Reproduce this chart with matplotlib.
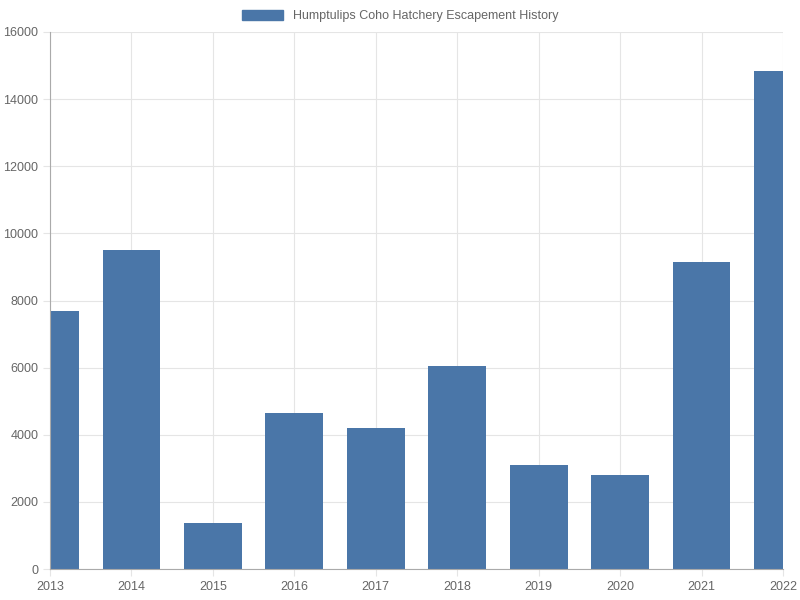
import matplotlib.pyplot as plt
from matplotlib.patches import Patch

years = [2013, 2014, 2015, 2016, 2017, 2018, 2019, 2020, 2021, 2022]
fish = [7700, 9500, 1370, 4650, 4200, 6050, 3100, 2800, 9150, 14840]
label = 'Humptulips Coho Hatchery Escapement History'

plt.rcParams['font.family'] = 'Liberation Sans'
fig = plt.figure(figsize=(8, 6), dpi=100)
ax = fig.add_axes([50/800, 1 - 569/600, 733/800, 537/600])

color = '#4a76a8'
ax.bar(years, fish, 0.71, color=color, zorder=2)
ax.set_xlim(2013, 2022)
ax.set_ylim(0, 16000)
ax.set_xticks(years)
ax.set_yticks(range(0, 16001, 2000))
ax.grid(True, color='#e5e5e5', linewidth=0.8, zorder=0)
for s in ['top', 'right']:
    ax.spines[s].set_visible(False)
for s in ['left', 'bottom']:
    ax.spines[s].set_color('#aaaaaa')
ax.tick_params(colors='#666666', labelsize=9, length=5)
ax.tick_params(axis='x', colors='#e5e5e5', labelcolor='#666666')
ax.tick_params(axis='y', colors='#e5e5e5', labelcolor='#666666')

fig.legend(handles=[Patch(color=color)], labels=[label], loc='center',
           bbox_to_anchor=(0.5, 1 - 16/600), frameon=False, fontsize=9,
           handlelength=3.3, handleheight=0.9, labelcolor='#666666')
fig.savefig('out.png')
